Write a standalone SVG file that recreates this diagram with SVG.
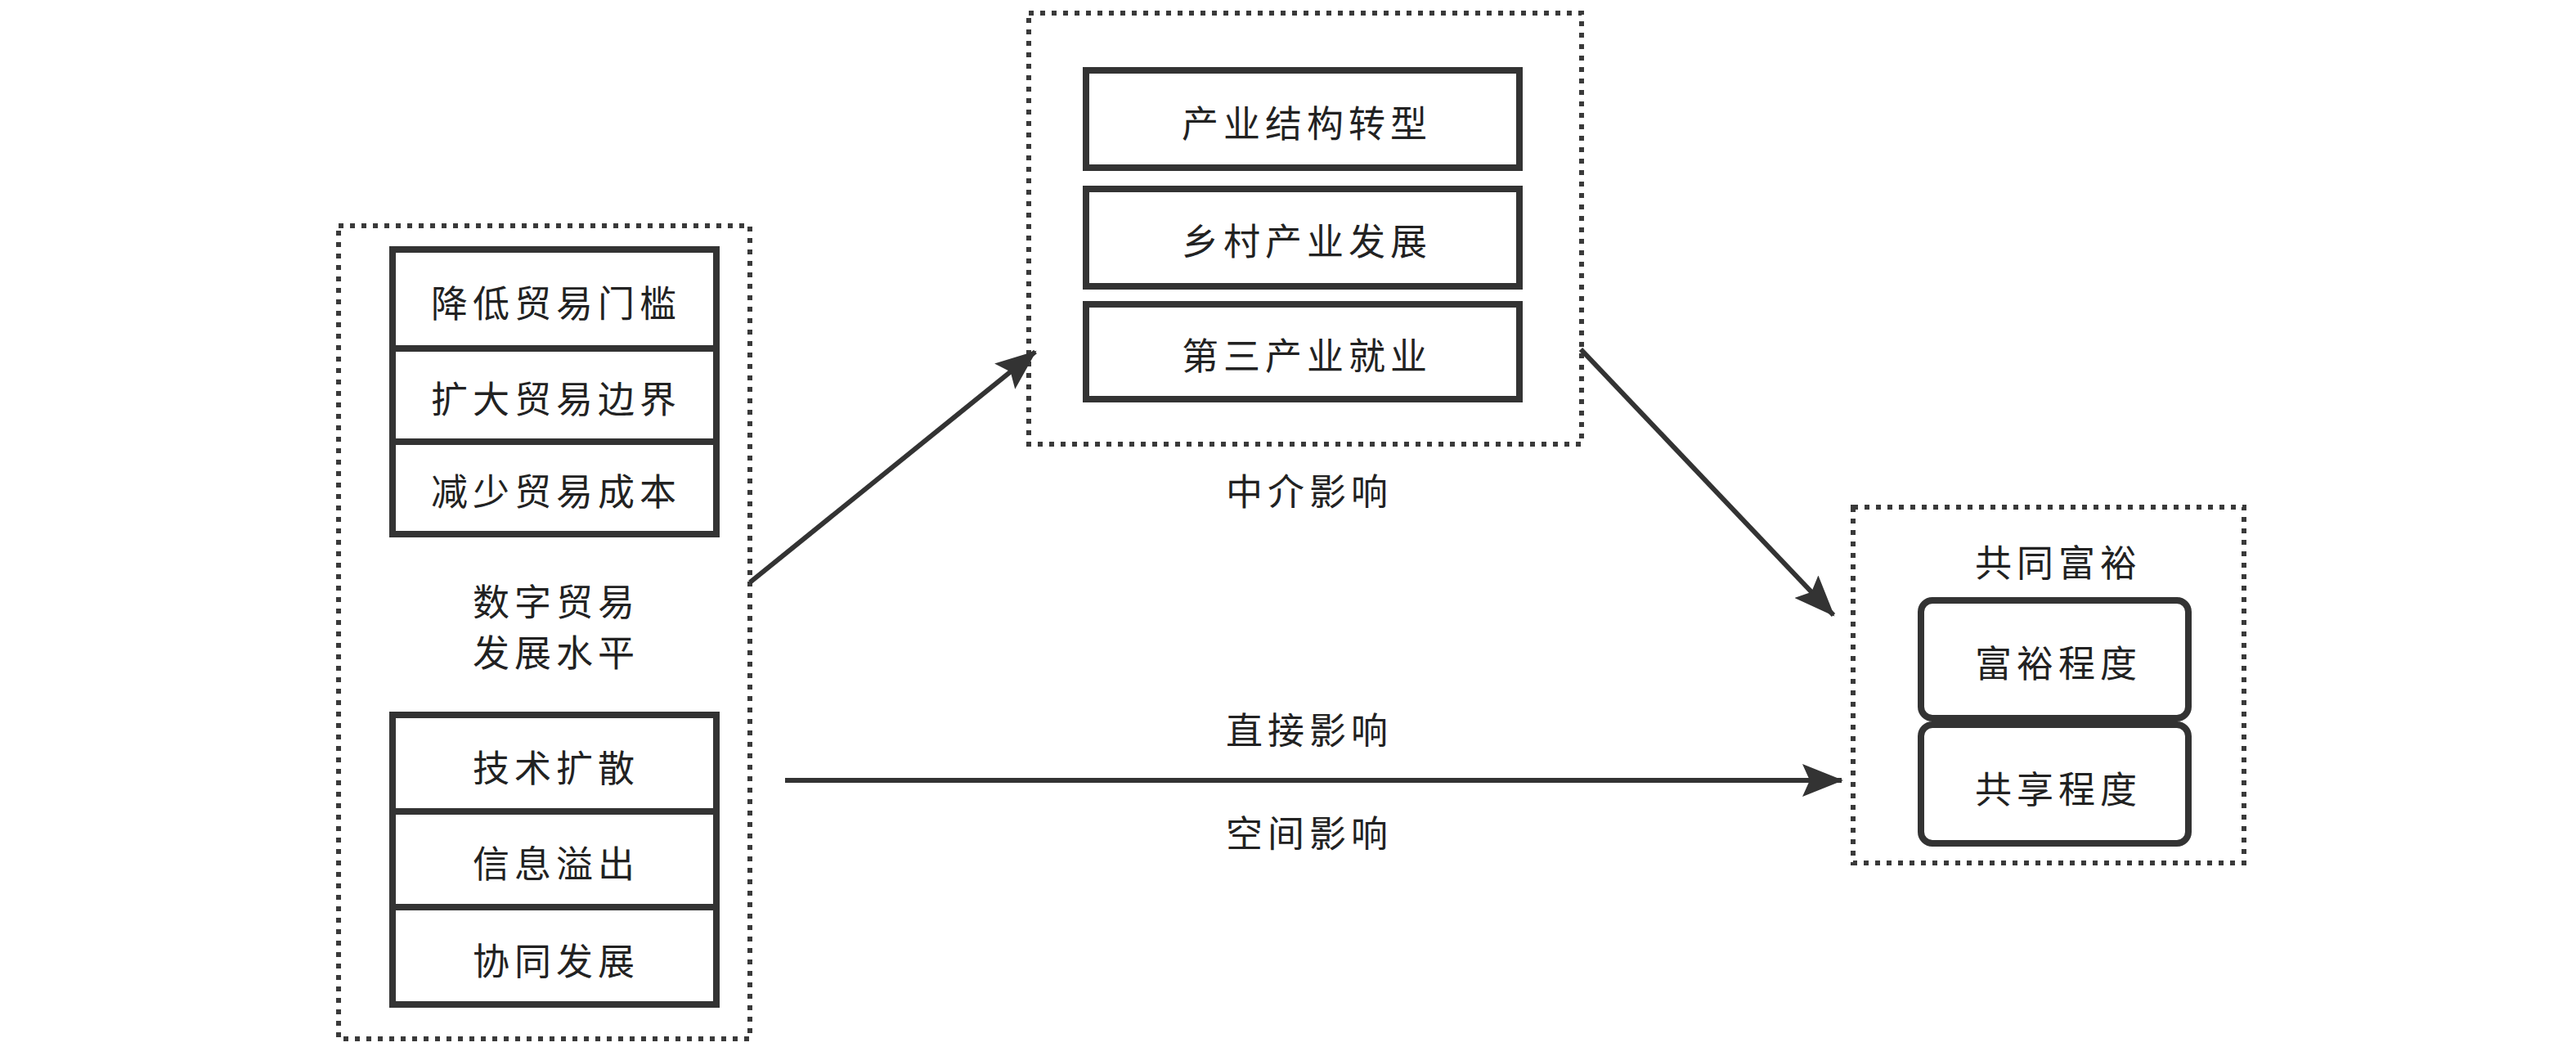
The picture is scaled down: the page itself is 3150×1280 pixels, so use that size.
<svg xmlns="http://www.w3.org/2000/svg" width="3150" height="1280" viewBox="0 0 3150 1280">
<style>
.dot{fill:none;stroke:#3a3a3a;stroke-width:6;stroke-dasharray:6 8}
.box{fill:#fff;stroke:#333;stroke-width:8}
.rbox{fill:#fff;stroke:#333;stroke-width:8}
.t{font-family:"Noto Sans CJK SC","Noto Sans",sans-serif;font-size:45px;fill:#222;text-anchor:middle;dominant-baseline:central;letter-spacing:6px}
.line{fill:none;stroke:#333;stroke-width:6}
</style>
<defs>
<marker id="arr" markerUnits="userSpaceOnUse" markerWidth="52" markerHeight="40" refX="48" refY="20" orient="auto">
<path d="M0,0 L50,20 L0,40 L9,20 Z" fill="#333"/>
</marker>
</defs>
<rect width="3150" height="1280" fill="#fff"/>
<g id="digital-trade">
<rect class="dot" x="414" y="276" width="503" height="994"/>
<rect class="box" x="480" y="305" width="396" height="348"/>
<line x1="480" y1="426" x2="876" y2="426" stroke="#333" stroke-width="8"/>
<line x1="480" y1="540" x2="876" y2="540" stroke="#333" stroke-width="8"/>
<text class="t" x="680" y="368">降低贸易门槛</text>
<text class="t" x="680" y="485">扩大贸易边界</text>
<text class="t" x="680" y="598">减少贸易成本</text>
<text class="t" x="680" y="733">数字贸易</text>
<text class="t" x="680" y="795">发展水平</text>
<rect class="box" x="480" y="874" width="396" height="354"/>
<line x1="480" y1="992" x2="876" y2="992" stroke="#333" stroke-width="8"/>
<line x1="480" y1="1109" x2="876" y2="1109" stroke="#333" stroke-width="8"/>
<text class="t" x="680" y="936">技术扩散</text>
<text class="t" x="680" y="1053">信息溢出</text>
<text class="t" x="680" y="1172">协同发展</text>
</g>
<g id="mediation">
<rect class="dot" x="1258" y="16" width="676" height="527"/>
<rect class="box" x="1328" y="86" width="530" height="119"/>
<rect class="box" x="1328" y="231" width="530" height="119"/>
<rect class="box" x="1328" y="372" width="530" height="116"/>
<text class="t" x="1598" y="148">产业结构转型</text>
<text class="t" x="1598" y="292">乡村产业发展</text>
<text class="t" x="1598" y="432">第三产业就业</text>
<text class="t" x="1601" y="598">中介影响</text>
</g>
<g id="common-prosperity">
<rect class="dot" x="2266" y="620" width="478" height="435"/>
<text class="t" x="2517" y="685">共同富裕</text>
<rect class="rbox" x="2349" y="734" width="327" height="144" rx="14"/>
<rect class="rbox" x="2349" y="886" width="327" height="145" rx="14"/>
<text class="t" x="2517" y="808">富裕程度</text>
<text class="t" x="2517" y="962">共享程度</text>
</g>
<g id="connectors">
<line class="line" x1="917" y1="712" x2="1266" y2="430" marker-end="url(#arr)"/>
<line class="line" x1="1933" y1="427" x2="2242" y2="752" marker-end="url(#arr)"/>
<line class="line" x1="960" y1="954" x2="2252" y2="954" marker-end="url(#arr)"/>
<text class="t" x="1601" y="890">直接影响</text>
<text class="t" x="1601" y="1016">空间影响</text>
</g>
</svg>
